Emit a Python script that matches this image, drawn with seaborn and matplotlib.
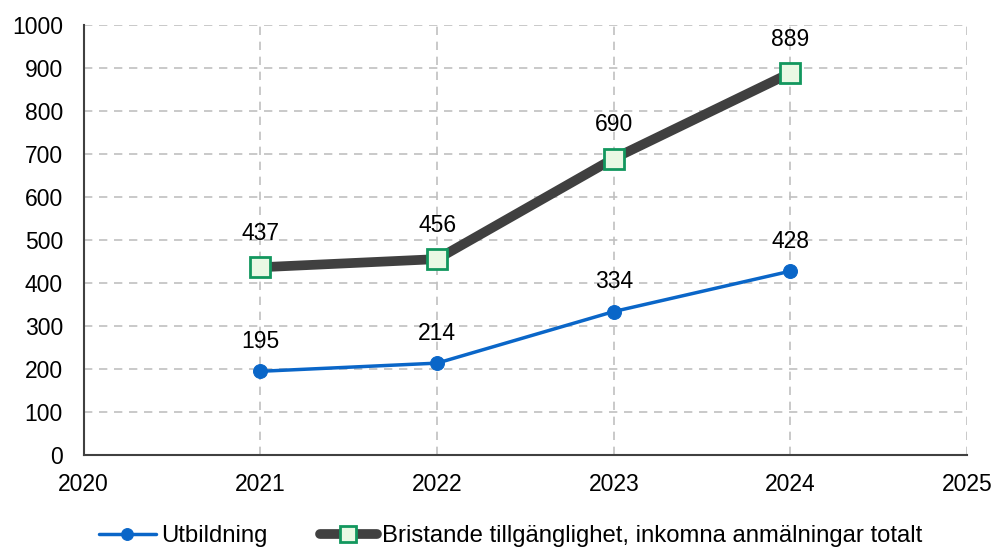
import numpy as np
import pandas as pd
import matplotlib.pyplot as plt
import seaborn as sns

years = [2021, 2022, 2023, 2024]
utbildning = [195, 214, 334, 428]
bristande = [437, 456, 690, 889]
series_names = ["Utbildning", "Bristande tillgänglighet, inkomna anmälningar totalt"]


def main():
    sns.set_style("white")
    plt.rcParams['font.family'] = ['Liberation Sans', 'DejaVu Sans']
    plt.rcParams['text.color'] = 'black'
    plt.rcParams['xtick.color'] = 'black'
    plt.rcParams['ytick.color'] = 'black'

    df = pd.DataFrame({"year": years * 2,
                       "value": utbildning + bristande,
                       "series": [series_names[0]] * 4 + [series_names[1]] * 4})

    fig = plt.figure(figsize=(9.97, 5.49), dpi=100)
    ax = fig.add_axes([0.084, 0.171, 0.886, 0.783])

    sns.lineplot(data=df[df.series == series_names[0]], x="year", y="value",
                 color="#0A66C8", linewidth=2.5, marker="o", markersize=10,
                 markeredgecolor="#0A66C8", label=series_names[0], ax=ax)
    sns.lineplot(data=df[df.series == series_names[1]], x="year", y="value",
                 color="#404040", linewidth=7, marker="s", markersize=14,
                 markerfacecolor="#E9F9E4", markeredgecolor="#12975E",
                 markeredgewidth=2, label=series_names[1], ax=ax)

    fs = 16.5
    for x, y in zip(years, utbildning):
        ax.annotate(str(y), (x, y), xytext=(0, 13), textcoords="offset points",
                    ha="center", va="bottom", fontsize=fs)
    for x, y in zip(years, bristande):
        ax.annotate(str(y), (x, y), xytext=(0, 16), textcoords="offset points",
                    ha="center", va="bottom", fontsize=fs)

    ax.set_xlim(2020, 2025)
    ax.set_ylim(0, 1000)
    ax.set_xticks(range(2020, 2026))
    ax.set_yticks(range(0, 1001, 100))
    ax.tick_params(labelsize=fs, length=0)
    ax.tick_params(axis="x", pad=13)
    ax.tick_params(axis="y", pad=15)
    ax.set_xlabel("")
    ax.set_ylabel("")
    ax.grid(True, color="#C0C0C0", linestyle=(0, (5, 4)), linewidth=1.2)
    for s in ["top", "right"]:
        ax.spines[s].set_visible(False)
    for s in ["left", "bottom"]:
        ax.spines[s].set_color("#404040")
        ax.spines[s].set_linewidth(1.5)

    ax.legend(loc="upper center", bbox_to_anchor=(0.483, -0.113), ncol=2,
              frameon=False, fontsize=17.2, handlelength=2.4, handletextpad=0.2,
              columnspacing=2.2, markerscale=0.85)

    fig.savefig("out.png", dpi=100)


if __name__ == '__main__':
    main()
